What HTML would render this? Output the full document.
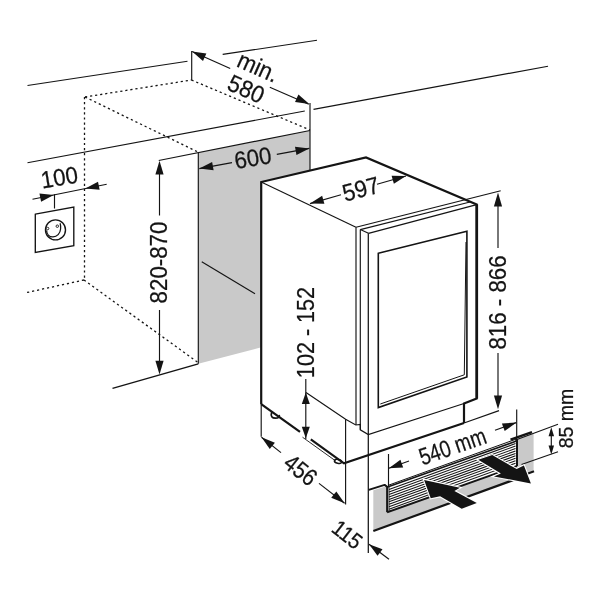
<!DOCTYPE html>
<html><head><meta charset="utf-8">
<style>
html,body{margin:0;padding:0;background:#fff;}
svg{display:block;filter:grayscale(1)}
text{font-family:"Liberation Sans",Arial,Helvetica,sans-serif;fill:#141414;stroke:#141414;stroke-width:0.25px;}
</style></head><body>
<svg width="600" height="600" viewBox="0 0 600 600">
<rect width="600" height="600" fill="#fff"/>
<polygon points="198.3,152.5 310,130.5 310,335 260.5,347.5 198.3,363.75" fill="#c9c9c9" stroke="none" stroke-width="1.0" />
<line x1="198.3" y1="152.5" x2="198.3" y2="363.75" stroke="#141414" stroke-width="1.15" />
<line x1="201.75" y1="261.75" x2="255" y2="293.75" stroke="#141414" stroke-width="1.15" />
<line x1="27.5" y1="85.5" x2="187.5" y2="61.25" stroke="#141414" stroke-width="1.15" />
<line x1="222.7" y1="54.4" x2="317" y2="40.3" stroke="#141414" stroke-width="1.15" />
<line x1="27.5" y1="162.7" x2="304.8" y2="111.0" stroke="#141414" stroke-width="1.15" />
<line x1="313.5" y1="109.4" x2="548" y2="66.2" stroke="#141414" stroke-width="1.15" />
<line x1="158.75" y1="160.5" x2="310" y2="130.5" stroke="#141414" stroke-width="1.15" />
<line x1="310" y1="103" x2="310" y2="172" stroke="#141414" stroke-width="1.15" />
<line x1="112.5" y1="388.4" x2="198.3" y2="363.9" stroke="#141414" stroke-width="1.5" />
<line x1="85" y1="97" x2="191.5" y2="80" stroke="#141414" stroke-width="1.3" stroke-dasharray="2.2 2.9"/>
<line x1="85" y1="97" x2="198" y2="152" stroke="#141414" stroke-width="1.3" stroke-dasharray="2.2 2.9"/>
<line x1="84.5" y1="97" x2="84.5" y2="280" stroke="#141414" stroke-width="1.3" stroke-dasharray="2.2 2.9"/>
<line x1="191.5" y1="80" x2="310" y2="130" stroke="#141414" stroke-width="1.3" stroke-dasharray="2.2 2.9"/>
<line x1="84" y1="280" x2="198" y2="362.5" stroke="#141414" stroke-width="1.3" stroke-dasharray="2.2 2.9"/>
<line x1="84" y1="280" x2="27" y2="292.5" stroke="#141414" stroke-width="1.3" stroke-dasharray="2.2 2.9"/>
<line x1="191.7" y1="51" x2="191.7" y2="80.2" stroke="#141414" stroke-width="1.15" />
<polygon points="192.1,51.5 206.37,53.43 203.0,60.91" fill="#141414" stroke="none" stroke-width="1.0" />
<line x1="192.1" y1="51.5" x2="230.2" y2="68.5" stroke="#141414" stroke-width="1.15" />
<line x1="269.8" y1="87.2" x2="308.8" y2="104.2" stroke="#141414" stroke-width="1.15" />
<polygon points="309.3,104.0 295.03,102.07 298.4,94.59" fill="#141414" stroke="none" stroke-width="1.0" />
<polygon points="199.3,168.6 212.13,162.08 213.61,170.14" fill="#141414" stroke="none" stroke-width="1.0" />
<polygon points="309.3,148.4 296.47,154.92 294.99,146.86" fill="#141414" stroke="none" stroke-width="1.0" />
<line x1="199.3" y1="168.6" x2="232" y2="162.6" stroke="#141414" stroke-width="1.15" />
<line x1="276.8" y1="154.4" x2="309.3" y2="148.4" stroke="#141414" stroke-width="1.15" />
<polygon points="159.5,160.8 163.6,174.6 155.4,174.6" fill="#141414" stroke="none" stroke-width="1.0" />
<polygon points="159.5,374.5 155.4,360.7 163.6,360.7" fill="#141414" stroke="none" stroke-width="1.0" />
<line x1="159.5" y1="170" x2="159.5" y2="215.5" stroke="#141414" stroke-width="1.15" />
<line x1="159.5" y1="310" x2="159.5" y2="365" stroke="#141414" stroke-width="1.15" />
<line x1="32.5" y1="199.2" x2="106.7" y2="184.2" stroke="#141414" stroke-width="1.15" />
<polygon points="53.8,194.9 41.09,201.65 39.46,193.62" fill="#141414" stroke="none" stroke-width="1.0" />
<polygon points="85.3,188.5 98.01,181.75 99.64,189.78" fill="#141414" stroke="none" stroke-width="1.0" />
<line x1="54.5" y1="194.2" x2="54.5" y2="208.5" stroke="#141414" stroke-width="1.15" />
<polygon points="35.3,214.2 73.8,207.1 73.8,245.7 35.3,252.5" fill="#fff" stroke="#141414" stroke-width="1.35" />
<circle cx="55.5" cy="229.9" r="10" fill="none" stroke="#141414" stroke-width="1.4"/>
<circle cx="47.6" cy="228.5" r="1.25" fill="#fff" stroke="#141414" stroke-width="0.9"/>
<circle cx="57.3" cy="226.2" r="1.25" fill="#fff" stroke="#141414" stroke-width="0.9"/>
<path d="M46.6 230.5 C46.8 234.5 49.5 237 53 236.9 C57 236.8 60.2 233.5 60.6 229 C60.8 226.5 60.6 224.8 60.1 223.2" fill="none" stroke="#141414" stroke-width="1.25"/>
<polygon points="261.2,182 366,157.5 476.7,204.4 476.7,399 464,403.5 464,423 344,463.3 261.2,404.2" fill="#fff" stroke="none" stroke-width="1.0" />
<line x1="261.2" y1="182" x2="356" y2="227.3" stroke="#141414" stroke-width="1.15" />
<line x1="356" y1="227.3" x2="500.7" y2="190.7" stroke="#141414" stroke-width="1.15" />
<line x1="360.3" y1="229.6" x2="470" y2="202" stroke="#141414" stroke-width="1.15" />
<line x1="368.5" y1="233.3" x2="476.7" y2="204.6" stroke="#141414" stroke-width="1.3" />
<line x1="360.3" y1="229.6" x2="368.5" y2="233.3" stroke="#141414" stroke-width="1.15" />
<line x1="356" y1="227.3" x2="356" y2="425" stroke="#141414" stroke-width="1.15" />
<line x1="360.3" y1="229.6" x2="360.3" y2="429.8" stroke="#141414" stroke-width="1.15" />
<line x1="368.3" y1="233.3" x2="368.3" y2="553" stroke="#141414" stroke-width="1.25" />
<polyline points="306,392.5 345.6,419.3 355.8,425 360.3,424.5 360.3,429.8 368.3,434.5 464,403.5" fill="none" stroke="#141414" stroke-width="1.15" />
<line x1="345.6" y1="419.3" x2="345.6" y2="504.4" stroke="#141414" stroke-width="1.15" />
<polygon points="378.3,253.3 466.9,231.3 466.9,377 378.3,407.6" fill="none" stroke="#141414" stroke-width="1.6" />
<polyline points="380.3,404.0 464.3,374.8 466.0,242" fill="none" stroke="#141414" stroke-width="1.0" />
<polyline points="261.2,404.2 261.2,182 366,157.5 476.7,204.4 476.7,398.5 464,403.5 464,423" fill="none" stroke="#141414" stroke-width="2.2" stroke-linejoin="miter"/>
<line x1="476.8" y1="204.4" x2="476.8" y2="398.5" stroke="#141414" stroke-width="2.6" />
<line x1="464" y1="423" x2="499" y2="410.6" stroke="#141414" stroke-width="1.15" />
<path d="M271.6 412.6 C270.4 416 272 418.2 275.5 418.2 C278.6 418.2 279.6 417 279.3 415.5" fill="none" stroke="#141414" stroke-width="1.7" stroke-linecap="round"/>
<ellipse cx="338" cy="461.4" rx="3.7" ry="1.9" transform="rotate(12 338 461.4)" fill="#fff" stroke="#141414" stroke-width="1.4"/>
<polyline points="261.2,404.2 300,431.8" fill="none" stroke="#141414" stroke-width="2.2" />
<polyline points="310.8,439.3 344,463.3 464,423" fill="none" stroke="#141414" stroke-width="2.2" />
<line x1="302.5" y1="437.2" x2="336" y2="461.2" stroke="#141414" stroke-width="0.9" />
<line x1="261.2" y1="404.2" x2="261.2" y2="436.7" stroke="#141414" stroke-width="1.15" />
<line x1="305.8" y1="379" x2="305.8" y2="439" stroke="#141414" stroke-width="1.15" />
<polygon points="305.8,392.5 309.8,404.0 301.8,404.0" fill="#141414" stroke="none" stroke-width="1.0" />
<polygon points="305.8,438.3 301.8,426.8 309.8,426.8" fill="#141414" stroke="none" stroke-width="1.0" />
<polygon points="261.5,437.3 274.87,442.65 269.78,449.08" fill="#141414" stroke="none" stroke-width="1.0" />
<polygon points="344.6,503.2 331.23,497.85 336.32,491.42" fill="#141414" stroke="none" stroke-width="1.0" />
<line x1="261.5" y1="437.3" x2="281" y2="452.6" stroke="#141414" stroke-width="1.15" />
<line x1="319" y1="483.4" x2="344.6" y2="503.2" stroke="#141414" stroke-width="1.15" />
<polygon points="498,192.6 502.1,206.4 493.9,206.4" fill="#141414" stroke="none" stroke-width="1.0" />
<polygon points="498,409.3 493.9,395.5 502.1,395.5" fill="#141414" stroke="none" stroke-width="1.0" />
<line x1="498" y1="200" x2="498" y2="248" stroke="#141414" stroke-width="1.15" />
<line x1="498" y1="353" x2="498" y2="400" stroke="#141414" stroke-width="1.15" />
<polygon points="310,203.6 322.13,195.85 324.4,203.73" fill="#141414" stroke="none" stroke-width="1.0" />
<polygon points="406,176 393.87,183.75 391.6,175.87" fill="#141414" stroke="none" stroke-width="1.0" />
<line x1="310" y1="203.6" x2="341" y2="194.7" stroke="#141414" stroke-width="1.15" />
<line x1="377" y1="184.3" x2="406" y2="176" stroke="#141414" stroke-width="1.15" />
<polygon points="373.3,490.3 386.3,486.2 386.3,512.5 517.5,466 517.5,438.3 533.6,433.2 533.6,470.2 518,476.8 518,478.2 373.3,530.5" fill="#c9c9c9" stroke="none" stroke-width="1.0" />
<polygon points="387.5,486.7 516,440.5 516,465.8 387.5,511.8" fill="#fff" stroke="none" stroke-width="1.0" />
<line x1="389" y1="489.6" x2="515.5" y2="443.6" stroke="#141414" stroke-width="1.05" />
<line x1="389" y1="492.05" x2="515.5" y2="446.05" stroke="#141414" stroke-width="1.05" />
<line x1="389" y1="494.5" x2="515.5" y2="448.5" stroke="#141414" stroke-width="1.05" />
<line x1="389" y1="496.95000000000005" x2="515.5" y2="450.95000000000005" stroke="#141414" stroke-width="1.05" />
<line x1="389" y1="499.40000000000003" x2="515.5" y2="453.40000000000003" stroke="#141414" stroke-width="1.05" />
<line x1="389" y1="501.85" x2="515.5" y2="455.85" stroke="#141414" stroke-width="1.05" />
<line x1="389" y1="504.3" x2="515.5" y2="458.3" stroke="#141414" stroke-width="1.05" />
<line x1="389" y1="506.75" x2="515.5" y2="460.75" stroke="#141414" stroke-width="1.05" />
<line x1="389" y1="509.20000000000005" x2="515.5" y2="463.20000000000005" stroke="#141414" stroke-width="1.05" />
<line x1="389" y1="486.5" x2="389" y2="511" stroke="#141414" stroke-width="0.9" />
<polyline points="368.7,489.9 384.6,484.9 387.1,486.8 387.1,512.3" fill="none" stroke="#141414" stroke-width="2.0" stroke-linejoin="round"/>
<line x1="388" y1="485.4" x2="516.5" y2="439.0" stroke="#141414" stroke-width="1.0" />
<line x1="387.6" y1="487.0" x2="516.5" y2="441.0" stroke="#141414" stroke-width="1.6" />
<polyline points="387.1,512.3 517,466" fill="none" stroke="#141414" stroke-width="2.0" />
<line x1="517" y1="439.3" x2="517" y2="466" stroke="#141414" stroke-width="2.0" />
<line x1="510.5" y1="439.6" x2="532" y2="432.1" stroke="#141414" stroke-width="2.3" />
<line x1="373.3" y1="531" x2="519" y2="478" stroke="#141414" stroke-width="2.2" />
<line x1="518" y1="477.3" x2="534" y2="471.3" stroke="#141414" stroke-width="2.2" />
<line x1="388.5" y1="454" x2="388.5" y2="486.5" stroke="#141414" stroke-width="1.15" />
<line x1="516.7" y1="409.5" x2="516.7" y2="440" stroke="#141414" stroke-width="1.15" />
<polygon points="388.8,468.3 400.42,459.8 403.18,467.52" fill="#141414" stroke="none" stroke-width="1.0" />
<polygon points="516.3,422.6 504.68,431.1 501.92,423.38" fill="#141414" stroke="none" stroke-width="1.0" />
<line x1="388.8" y1="468.3" x2="409" y2="461" stroke="#141414" stroke-width="1.15" />
<line x1="495" y1="430.2" x2="516.3" y2="422.6" stroke="#141414" stroke-width="1.15" />
<line x1="515" y1="440.3" x2="558" y2="424.3" stroke="#141414" stroke-width="1.15" />
<line x1="521.5" y1="464.5" x2="558" y2="451.8" stroke="#141414" stroke-width="1.15" />
<line x1="551.3" y1="430" x2="551.3" y2="452" stroke="#141414" stroke-width="1.15" />
<polygon points="551.3,427.3 554.05,436.3 548.55,436.3" fill="#141414" stroke="none" stroke-width="1.0" />
<polygon points="551.3,454.4 548.55,445.4 554.05,445.4" fill="#141414" stroke="none" stroke-width="1.0" />
<polygon points="369,544.2 382.5,549.2 377.58,555.76" fill="#141414" stroke="none" stroke-width="1.0" />
<line x1="369" y1="544.2" x2="389" y2="559.2" stroke="#141414" stroke-width="1.15" />
<polygon points="424.1,479.9 459.9,487.75 454.4,490.9 476.8,502.9 461.7,508.75 440.1,496.3 430.75,498.25" fill="#141414" stroke="#fff" stroke-width="2.2" paint-order="stroke"/>
<polygon points="478.2,459.7 492.2,455.1 516.7,469.1 523.9,465.6 530.9,483.4 493.9,476.4 500.9,473.5" fill="#141414" stroke="#fff" stroke-width="2.2" paint-order="stroke"/>
<text transform="translate(254.8 74.5) rotate(24) scale(0.93 1)" font-size="24" text-anchor="middle" >min.</text>
<text transform="translate(242.8 96.5) rotate(24) scale(0.93 1)" font-size="24" text-anchor="middle" >580</text>
<text transform="translate(254.2 166) rotate(-9) scale(0.93 1)" font-size="24" text-anchor="middle" >600</text>
<text transform="translate(60.5 185.5) rotate(-9) scale(0.93 1)" font-size="24" text-anchor="middle" >100</text>
<text transform="translate(167.3 262.5) rotate(-90) scale(0.93 1)" font-size="24" text-anchor="middle" >820-870</text>
<text transform="translate(363 197) rotate(-15) scale(0.93 1)" font-size="24" text-anchor="middle" >597</text>
<text transform="translate(505.5 302.5) rotate(-90) scale(0.93 1)" font-size="24" text-anchor="middle" >816 - 866</text>
<text transform="translate(313.7 332.5) rotate(-90) scale(0.9 1)" font-size="24" text-anchor="middle" >102 - 152</text>
<text transform="translate(295.5 476.5) rotate(38.5) scale(0.86 1)" font-size="24" text-anchor="middle" >456</text>
<text transform="translate(342.6 540.5) rotate(38) scale(0.9 1)" font-size="22" text-anchor="middle" >115</text>
<text transform="translate(455.3 454.2) rotate(-19) scale(0.8 1)" font-size="24" text-anchor="middle" >540 mm</text>
<text transform="translate(572.8 418.5) rotate(-90) scale(0.93 1)" font-size="21" text-anchor="middle" >85 mm</text>
</svg>
</body></html>
